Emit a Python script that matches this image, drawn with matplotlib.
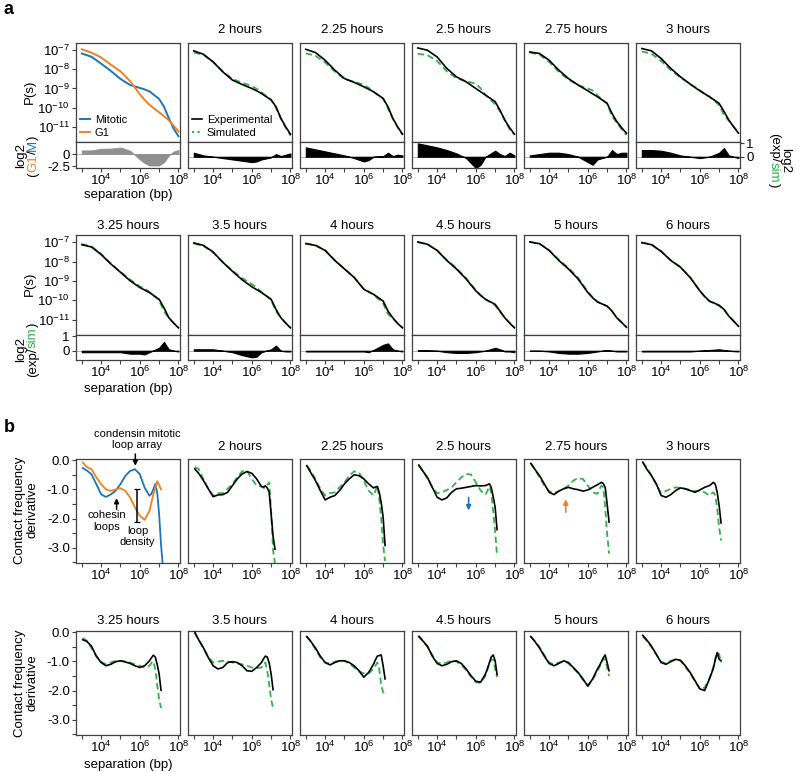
import numpy as np
import matplotlib
matplotlib.use('Agg')
import matplotlib.pyplot as plt
from matplotlib.lines import Line2D
from matplotlib.ticker import FixedLocator, FixedFormatter, NullLocator

plt.rcParams['font.family'] = ['Liberation Sans', 'DejaVu Sans']
plt.rcParams['mathtext.fontset'] = 'custom'
plt.rcParams['mathtext.rm'] = 'Liberation Sans'
plt.rcParams['mathtext.it'] = 'Liberation Sans:italic'
plt.rcParams['mathtext.bf'] = 'Liberation Sans:bold'
plt.rcParams['axes.unicode_minus'] = False

nan = np.nan

# ---------------------------------------------------------------- data
times = ['2', '2.25', '2.5', '2.75', '3', '3.25', '3.5', '4', '4.5', '5', '6']

# P(s), log10 values at these log10 separations
ps_logs = [3.0, 3.5, 4.0, 4.5, 5.0, 5.5, 6.0, 6.25, 6.5, 7.0, 7.25, 7.5, 7.75, 8.0]
ps_mitotic = [-7.17, -7.34, -7.70, -8.08, -8.50, -8.82, -8.97, -9.05, -9.15, -9.55, -9.95, -10.55, -11.10, -11.50]
ps_g1 = [-6.95, -7.12, -7.38, -7.75, -8.10, -8.62, -9.30, -9.60, -9.85, -10.25, -10.45, -10.65, -10.95, -11.25]

ps_exp = [
    [-7.03, -7.21, -7.61, -8.13, -8.56, -8.79, -9.00, -9.12, -9.26, -9.60, -9.95, -10.55, -11.00, -11.39],
    [-6.95, -7.12, -7.52, -8.04, -8.48, -8.68, -8.91, -9.04, -9.17, -9.52, -9.95, -10.56, -11.00, -11.39],
    [-6.88, -7.00, -7.35, -7.95, -8.39, -8.65, -9.00, -9.17, -9.34, -9.69, -10.13, -10.65, -11.05, -11.39],
    [-7.09, -7.17, -7.52, -8.04, -8.48, -8.82, -9.12, -9.28, -9.43, -9.78, -10.30, -10.73, -11.05, -11.34],
    [-6.91, -7.03, -7.43, -7.95, -8.39, -8.77, -9.12, -9.28, -9.43, -9.78, -10.20, -10.65, -11.00, -11.34],
    [-7.12, -7.24, -7.63, -8.12, -8.55, -8.99, -9.34, -9.47, -9.60, -9.95, -10.39, -10.90, -11.18, -11.43],
    [-7.03, -7.16, -7.50, -8.03, -8.50, -8.94, -9.30, -9.45, -9.60, -9.95, -10.47, -10.90, -11.18, -11.43],
    [-7.07, -7.16, -7.42, -7.94, -8.38, -8.82, -9.43, -9.57, -9.69, -10.04, -10.56, -10.91, -11.20, -11.43],
    [-6.98, -7.10, -7.42, -7.94, -8.38, -8.90, -9.51, -9.75, -9.95, -10.21, -10.56, -10.91, -11.18, -11.43],
    [-6.98, -7.07, -7.42, -7.94, -8.38, -8.90, -9.60, -9.87, -10.09, -10.30, -10.56, -10.91, -11.15, -11.40],
    [-7.02, -7.12, -7.47, -7.94, -8.29, -8.82, -9.51, -9.80, -10.04, -10.26, -10.47, -10.82, -11.08, -11.35],
]

# log2(exp/sim) on the same separations
ps_res = [
    [0.30, 0.10, 0.00, -0.10, -0.20, -0.30, -0.40, -0.35, -0.20, -0.05, 0.20, 0.05, 0.15, 0.25],
    [0.70, 0.55, 0.40, 0.25, 0.10, -0.10, -0.35, -0.25, 0.00, 0.05, 0.30, 0.05, 0.15, 0.10],
    [1.00, 0.85, 0.70, 0.50, 0.25, -0.10, -0.85, -0.60, 0.00, 0.45, 0.20, 0.05, 0.30, 0.10],
    [0.10, 0.20, 0.30, 0.30, 0.20, 0.00, -0.40, -0.60, -0.20, 0.00, 0.50, 0.20, 0.30, 0.30],
    [0.50, 0.50, 0.45, 0.30, 0.10, 0.00, -0.10, -0.05, 0.00, 0.30, 0.65, 0.10, 0.00, -0.10],
    [-0.10, -0.10, -0.10, -0.10, -0.10, -0.20, -0.20, -0.25, -0.10, 0.20, 0.60, 0.10, 0.00, -0.05],
    [0.10, 0.10, 0.10, 0.00, -0.10, -0.30, -0.45, -0.40, -0.10, 0.10, 0.35, 0.00, -0.05, -0.05],
    [-0.05, -0.05, -0.05, -0.05, -0.05, -0.05, -0.05, -0.10, 0.05, 0.40, 0.50, 0.10, 0.00, -0.05],
    [0.05, 0.02, 0.00, -0.10, -0.15, -0.15, -0.10, -0.05, 0.00, 0.20, 0.10, -0.05, -0.05, -0.10],
    [0.00, 0.00, -0.05, -0.15, -0.20, -0.20, -0.15, -0.10, -0.05, 0.05, 0.00, -0.05, -0.05, -0.05],
    [-0.05, -0.05, -0.05, -0.05, -0.05, -0.05, 0.00, 0.03, 0.05, 0.10, 0.05, 0.00, -0.03, -0.05],
]

# contact frequency derivative
der_logs = [3.05, 3.25, 3.5, 3.75, 4.0, 4.25, 4.5, 4.75, 5.0, 5.25, 5.5, 5.75, 6.0, 6.25,
            6.5, 6.6, 6.7, 6.8, 6.9, 7.0, 7.1, 7.2]
der_mitotic = [-0.27, -0.35, -0.48, -0.82, -1.17, -1.26, -1.17, -1.05, -0.82, -0.54, -0.37, -0.31, -0.48, -0.94,
               -1.22, -1.15, -1.00, -0.82, -1.10, -1.85, -2.90, -3.70]
der_g1 = [-0.08, -0.23, -0.31, -0.59, -0.82, -1.00, -1.05, -1.00, -0.96, -1.05, -1.28, -1.62, -1.90, -2.04,
          -1.74, -1.45, -1.17, -0.95, -0.72, -0.85, -1.00, nan]

der_exp = [
    [-0.30, -0.45, -0.70, -0.98, -1.25, -1.19, -1.18, -1.10, -0.87, -0.64, -0.47, -0.39, -0.45, -0.64, -0.90, -0.92, -0.88, -0.95, -1.10, -1.84, -2.60, -3.05],
    [-0.19, -0.42, -0.70, -1.04, -1.36, -1.27, -1.21, -1.04, -0.81, -0.64, -0.50, -0.53, -0.64, -0.81, -0.95, -0.92, -0.90, -1.10, -1.45, -1.95, -2.92, nan],
    [-0.17, -0.36, -0.59, -0.93, -1.27, -1.36, -1.29, -1.10, -0.98, -0.96, -0.93, -0.90, -0.87, -0.88, -0.87, -0.84, -0.81, -0.93, -1.25, -1.61, -2.38, nan],
    [-0.11, -0.30, -0.53, -0.81, -1.10, -1.18, -1.06, -0.98, -0.93, -0.98, -1.01, -1.06, -1.02, -0.93, -0.84, -0.80, -0.76, -0.80, -0.93, -1.50, -2.12, nan],
    [-0.07, -0.30, -0.53, -0.81, -1.21, -1.27, -1.18, -1.04, -0.95, -0.98, -1.04, -1.10, -1.02, -0.93, -0.87, -0.82, -0.76, -0.82, -1.10, -1.55, -2.15, nan],
    [-0.26, -0.31, -0.48, -0.82, -1.04, -1.15, -1.10, -1.01, -0.98, -1.02, -1.07, -1.15, -1.21, -1.15, -0.98, -0.88, -0.79, -0.85, -1.10, -1.43, -1.99, nan],
    [0.00, -0.26, -0.54, -0.87, -1.15, -1.26, -1.21, -1.04, -1.01, -1.04, -1.15, -1.32, -1.34, -1.21, -1.04, -0.92, -0.82, -0.85, -1.05, -1.43, -1.97, nan],
    [-0.15, -0.31, -0.54, -0.82, -1.04, -1.12, -1.04, -0.98, -0.98, -1.04, -1.15, -1.32, -1.54, -1.38, -1.10, -0.95, -0.82, -0.80, -0.78, -1.15, -1.60, nan],
    [-0.15, -0.29, -0.48, -0.82, -1.07, -1.15, -1.10, -1.01, -0.98, -1.07, -1.26, -1.49, -1.68, -1.71, -1.43, -1.25, -1.05, -0.85, -0.78, -0.98, -1.45, nan],
    [-0.15, -0.31, -0.54, -0.82, -1.07, -1.15, -1.07, -0.98, -1.04, -1.21, -1.38, -1.60, -1.85, -1.60, -1.26, -1.15, -1.02, -0.88, -0.78, -1.04, -1.32, nan],
    [-0.11, -0.26, -0.48, -0.76, -1.04, -1.10, -1.01, -0.93, -0.96, -1.15, -1.38, -1.66, -1.94, -2.00, -1.60, -1.42, -1.24, -0.95, -0.70, -0.93, -0.98, nan],
]

der_sim = [
    [-0.24, -0.30, -0.65, -0.98, -1.21, -1.13, -1.13, -0.98, -0.81, -0.59, -0.38, -0.36, -0.64, -0.87, -0.90, -0.95, -0.95, -0.85, -0.76, -1.72, -3.09, -3.55],
    [-0.19, -0.36, -0.64, -0.98, -1.21, -1.13, -1.10, -0.93, -0.76, -0.53, -0.38, -0.42, -0.70, -1.04, -1.21, -1.05, -0.87, -1.33, -2.00, -2.90, -3.45, nan],
    [-0.17, -0.36, -0.64, -0.93, -1.13, -1.10, -1.02, -0.93, -0.76, -0.59, -0.47, -0.49, -0.76, -1.04, -1.18, -1.05, -0.90, -1.10, -1.75, -2.41, -3.30, nan],
    [-0.11, -0.30, -0.59, -0.87, -1.06, -1.13, -1.06, -0.98, -0.87, -0.70, -0.61, -0.65, -0.87, -1.10, -1.15, -1.00, -0.87, -0.93, -1.60, -2.52, -3.20, nan],
    [-0.07, -0.25, -0.53, -0.84, -1.13, -1.06, -0.98, -0.93, -0.95, -0.98, -1.02, -1.06, -1.06, -1.10, -1.21, -1.15, -1.10, -1.20, -1.65, -2.30, -2.75, nan],
    [-0.20, -0.29, -0.54, -0.82, -1.01, -1.10, -1.04, -0.98, -0.98, -1.00, -1.04, -1.10, -1.15, -1.21, -1.15, -1.05, -1.00, -1.26, -1.80, -2.30, -2.60, nan],
    [-0.03, -0.26, -0.54, -0.85, -1.04, -1.01, -0.98, -1.00, -1.04, -1.07, -1.10, -1.15, -1.21, -1.23, -1.21, -1.12, -1.04, -1.32, -1.80, -2.30, -2.60, nan],
    [-0.15, -0.31, -0.59, -0.87, -1.04, -1.07, -1.01, -0.97, -0.98, -1.07, -1.21, -1.34, -1.41, -1.41, -1.26, -1.15, -1.04, -1.26, -1.80, -2.05, -2.15, nan],
    [-0.12, -0.29, -0.51, -0.78, -1.04, -1.07, -1.04, -0.96, -1.01, -1.12, -1.30, -1.52, -1.71, -1.74, -1.49, -1.30, -1.10, -0.93, -0.95, -1.25, -1.54, nan],
    [-0.15, -0.29, -0.51, -0.78, -1.04, -1.10, -1.04, -1.01, -1.07, -1.23, -1.41, -1.63, -1.82, -1.63, -1.32, -1.20, -1.05, -0.90, -0.95, -1.20, -1.50, nan],
    [-0.15, -0.29, -0.51, -0.76, -1.01, -1.07, -0.98, -0.93, -0.98, -1.18, -1.41, -1.68, -1.94, -1.90, -1.58, -1.40, -1.20, -0.90, -0.70, -0.75, -1.04, nan],
]

# ---------------------------------------------------------------- style
BLUE = '#1b75bb'
ORANGE = '#f47f20'
GREEN = '#2fb34a'
GRID = '#404040'
FS = 9.5

W, H = 800, 772
fig = plt.figure(figsize=(W / 100, H / 100), dpi=100)

col_left = [76, 188, 300, 412, 524, 636]
col_w = 104


def box(left, top, width, height):
    return fig.add_axes([left / W, 1 - (top + height) / H, width / W, height / H])


def style(ax):
    for sp in ax.spines.values():
        sp.set_color(GRID)
        sp.set_linewidth(0.9)
    ax.tick_params(direction='out', length=3, width=0.8, color=GRID, labelsize=FS, pad=1.5)
    ax.tick_params(axis='x', pad=0.5)


def log_x(ax, labels=True):
    ax.set_xscale('log')
    ax.set_xlim(10 ** 2.7, 10 ** 8.08)
    ax.xaxis.set_major_locator(FixedLocator(10.0 ** np.arange(3, 9)))
    ax.xaxis.set_minor_locator(NullLocator())
    if labels:
        ax.xaxis.set_major_formatter(FixedFormatter(['', '$10^{4}$', '', '$10^{6}$', '', '$10^{8}$']))
    else:
        ax.xaxis.set_major_formatter(FixedFormatter([''] * 6))


def no_y(ax):
    ax.yaxis.set_major_locator(NullLocator())
    ax.yaxis.set_minor_locator(NullLocator())


def ftext(x, y, s, **kw):
    kw.setdefault('fontsize', FS)
    kw.setdefault('ha', 'center')
    kw.setdefault('va', 'center')
    return fig.text(x / W, 1 - y / H, s, **kw)


def stacked_label(x, y, pieces, rot=90, size=FS):
    """Rotated label made of differently coloured pieces, centred on (x, y) px."""
    r = fig.canvas.get_renderer()
    widths = []
    for s, c in pieces:
        t = fig.text(0, 0, s, fontsize=size)
        widths.append(t.get_window_extent(renderer=r).width)
        t.remove()
    total = sum(widths)
    yc = H - y
    pos = 0.0
    for (s, c), w in zip(pieces, widths):
        if rot == 90:
            yy = yc - total / 2 + pos + w / 2
        else:
            yy = yc + total / 2 - pos - w / 2
        fig.text(x / W, yy / H, s, color=c, fontsize=size, rotation=rot, ha='center', va='center')
        pos += w


s_ps = 10.0 ** np.array(ps_logs)
s_der = 10.0 ** np.array(der_logs)
green_dash = (0, (3.5, 2))


def ps_main(ax):
    style(ax)
    ax.set_xscale('log')
    ax.set_yscale('log')
    ax.set_xlim(10 ** 2.7, 10 ** 8.08)
    ax.set_ylim(10 ** -11.8, 10 ** -6.62)
    ax.xaxis.set_major_locator(NullLocator())
    ax.xaxis.set_minor_locator(NullLocator())
    no_y(ax)


def ps_ylabels(ax):
    ax.yaxis.set_major_locator(FixedLocator(10.0 ** np.arange(-11, -6)))
    ax.yaxis.set_major_formatter(FixedFormatter(['$10^{-%d}$' % k for k in range(11, 6, -1)]))


# ---------------------------------------------------------------- panel a
rows_a = [(43, 99, 26, 30, (-0.84, 1.1)), (235, 100, 25, 226, (-0.63, 1.07))]

for r, (top, mh, rh, ty, rlim) in enumerate(rows_a):
    for c in range(6):
        left = col_left[c]
        ax = box(left, top, col_w, mh)
        rax = box(left, top + mh, col_w, rh)
        ps_main(ax)
        style(rax)
        log_x(rax)
        rax.axhline(0, color='#b5b5b5', lw=0.7, zorder=1)

        if r == 0 and c == 0:
            mit = 10.0 ** np.array(ps_mitotic)
            g1 = 10.0 ** np.array(ps_g1)
            ax.plot(s_ps, mit, color=BLUE, lw=1.4)
            ax.plot(s_ps, g1, color=ORANGE, lw=1.4)
            ax.legend(handles=[Line2D([], [], color=BLUE, lw=1.4), Line2D([], [], color=ORANGE, lw=1.4)],
                      labels=['Mitotic', 'G1'], loc='lower left', frameon=False, fontsize=8,
                      handlelength=0.9, handletextpad=0.4, labelspacing=0.25,
                      borderaxespad=0.2, borderpad=0.2)
            rax.fill_between(s_ps, 0, np.log2(g1 / mit), color='#8f8f8f', lw=0.6, zorder=2)
            rax.set_ylim(-2.83, 2.43)
            rax.set_yticks([0, -2.5])
            rax.set_yticklabels(['0', '-2.5'])
            ps_ylabels(ax)
            continue

        k = c - 1 if r == 0 else c + 5
        exp = 10.0 ** np.array(ps_exp[k])
        sim = exp / 2.0 ** np.array(ps_res[k])
        ax.plot(s_ps, exp, color='k', lw=1.2, zorder=3)
        ax.plot(s_ps, sim, color=GREEN, lw=1.3, ls=green_dash, zorder=2)
        rax.fill_between(s_ps, 0, ps_res[k], color='k', lw=0.8, zorder=2)
        rax.set_ylim(*rlim)
        no_y(rax)
        ftext(left + col_w / 2, ty, times[k] + ' hours')

        if r == 0 and c == 1:
            ax.legend(handles=[Line2D([], [], color='k', lw=1.2),
                               Line2D([], [], color=GREEN, lw=1.5, ls=':')],
                      labels=['Experimental', 'Simulated'], loc='lower left', frameon=False,
                      fontsize=8, handlelength=0.9, handletextpad=0.4, labelspacing=0.25,
                      borderaxespad=0.2, borderpad=0.2)
        if r == 0 and c == 5:
            rax.yaxis.tick_right()
            rax.set_yticks([0, 1])
            rax.set_yticklabels(['0', '1'])
        if r == 1 and c == 0:
            ps_ylabels(ax)
            rax.set_yticks([0, 1])
            rax.set_yticklabels(['0', '1'])

# axis labels for panel a
ftext(30, 92, 'P(s)', rotation=90)
ftext(30, 284, 'P(s)', rotation=90)
ftext(128, 195, 'separation (bp)')
ftext(128, 389, 'separation (bp)')
stacked_label(21, 156, [('log2', 'k')])
stacked_label(33, 156, [('(', 'k'), ('G1', ORANGE), ('/', 'k'), ('M', BLUE), (')', 'k')])
stacked_label(785, 160, [('log2', 'k')], rot=270)
stacked_label(774, 160, [('(exp/', 'k'), ('sim', GREEN), (')', 'k')], rot=270)
stacked_label(21, 350, [('log2', 'k')])
stacked_label(33, 350, [('(exp/', 'k'), ('sim', GREEN), (')', 'k')])

# ---------------------------------------------------------------- panel b
rows_b = [(459, 447), (631, 621)]
for r, (top, ty) in enumerate(rows_b):
    for c in range(6):
        left = col_left[c]
        ax = box(left, top, col_w, 104)
        style(ax)
        log_x(ax)
        ax.set_ylim(-3.52, 0.04)
        if c == 0:
            ax.yaxis.set_major_locator(FixedLocator(np.arange(0, -3.6, -0.5)))
            ax.yaxis.set_major_formatter(FixedFormatter(['0.0', '', '-1.0', '', '-2.0', '', '-3.0', '']))
        else:
            no_y(ax)

        if r == 0 and c == 0:
            ax.plot(s_der, der_mitotic, color=BLUE, lw=1.3)
            ax.plot(s_der, der_g1, color=ORANGE, lw=1.3)
            arrow = dict(arrowstyle='-|>', color='k', lw=1.1, mutation_scale=7, shrinkA=0, shrinkB=0)
            ax.annotate('', xy=(10 ** 5.77, -0.19), xytext=(10 ** 5.77, 0.21), arrowprops=arrow,
                        annotation_clip=False)
            ax.text(10 ** 5.85, 0.72, 'condensin mitotic\nloop array', fontsize=8, ha='center',
                    va='center', linespacing=1.15, clip_on=False)
            ax.annotate('', xy=(10 ** 4.8, -1.3), xytext=(10 ** 4.8, -1.68), arrowprops=arrow)
            ax.text(10 ** 4.28, -2.08, 'cohesin\nloops', fontsize=8, ha='center', va='center',
                    linespacing=1.15)
            ax.errorbar([10 ** 5.83], [-1.54], yerr=[0.57], color='k', lw=1.1, capsize=2.2, capthick=0.9)
            ax.text(10 ** 5.88, -2.62, 'loop\ndensity', fontsize=8, ha='center', va='center',
                    linespacing=1.15)
            continue

        k = c - 1 if r == 0 else c + 5
        ax.plot(s_der, der_exp[k], color='k', lw=1.2, zorder=3)
        ax.plot(s_der, der_sim[k], color=GREEN, lw=1.3, ls=green_dash, zorder=2)
        ftext(left + col_w / 2, ty, times[k] + ' hours')

        if times[k] == '2.5':
            ax.annotate('', xy=(10 ** 5.63, -1.72), xytext=(10 ** 5.63, -1.28),
                        arrowprops=dict(arrowstyle='-|>', color=BLUE, lw=1.2, mutation_scale=7,
                                        shrinkA=0, shrinkB=0))
        if times[k] == '2.75':
            ax.annotate('', xy=(10 ** 4.86, -1.34), xytext=(10 ** 4.86, -1.78),
                        arrowprops=dict(arrowstyle='-|>', color=ORANGE, lw=1.2, mutation_scale=7,
                                        shrinkA=0, shrinkB=0))

ftext(26, 510, 'Contact frequency\nderivative', rotation=90, linespacing=1.05)
ftext(26, 683, 'Contact frequency\nderivative', rotation=90, linespacing=1.05)
ftext(128, 765, 'separation (bp)')

ftext(9, 9, 'a', fontsize=13, fontweight='bold')
ftext(9, 428, 'b', fontsize=13, fontweight='bold')

fig.savefig('out.png', dpi=100)
